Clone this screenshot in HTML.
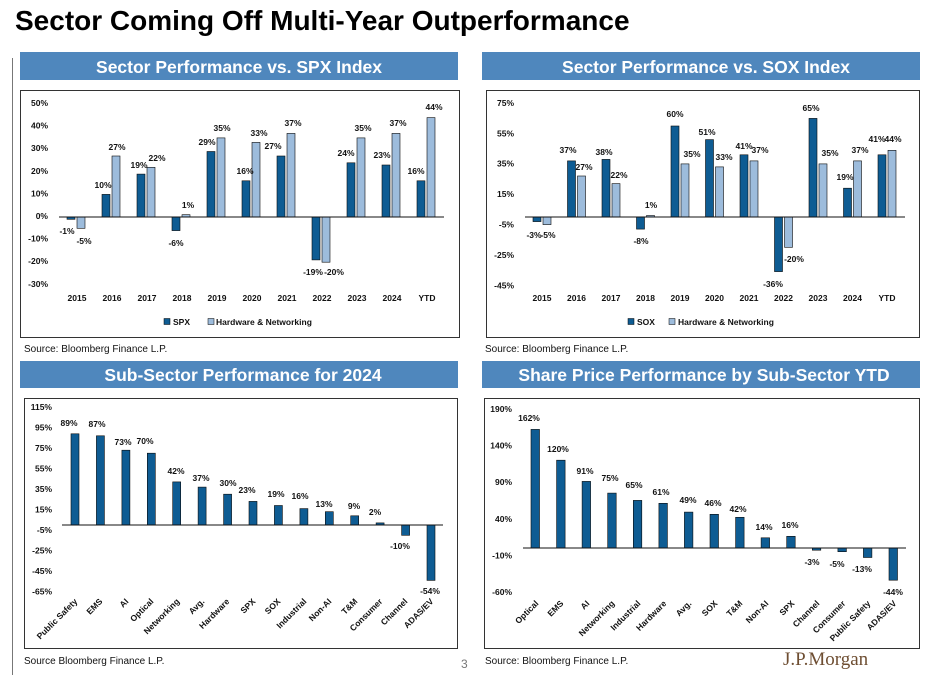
<!DOCTYPE html>
<html><head><meta charset="utf-8"><style>
html,body{margin:0;padding:0;background:#fff;}
svg{display:block;}
text{font-family:"Liberation Sans",sans-serif;}
.t{font-size:8.5px;font-weight:bold;fill:#111;}
.v{font-size:8.5px;font-weight:bold;fill:#111;text-anchor:middle;}
.y{font-size:8.5px;font-weight:bold;fill:#111;text-anchor:end;}
.x{font-size:8.5px;font-weight:bold;fill:#111;text-anchor:middle;}
.r{font-size:8.5px;font-weight:bold;fill:#111;text-anchor:end;}
.s{font-size:10px;fill:#111;}
.bn{font-size:17.5px;font-weight:bold;fill:#fff;text-anchor:middle;}
.d rect{fill:#0e5c93;stroke:#0a0a0a;stroke-width:0.6;}
.l rect{fill:#9dbcdc;stroke:#0a0a0a;stroke-width:0.6;}
</style></head><body>
<svg width="931" height="675" viewBox="0 0 931 675" xmlns="http://www.w3.org/2000/svg">
<text x="15" y="30" style="font-size:28px;font-weight:bold;fill:#000">Sector Coming Off Multi-Year Outperformance</text>
<line x1="12.5" y1="58" x2="12.5" y2="675" stroke="#777" stroke-width="1"/>
<!-- banners -->
<rect x="20" y="52" width="438" height="28" fill="#4f87bd"/>
<text class="bn" x="239" y="73">Sector Performance vs. SPX Index</text>
<rect x="482" y="52" width="438" height="28" fill="#4f87bd"/>
<text class="bn" x="706" y="73">Sector Performance vs. SOX Index</text>
<rect x="20" y="361" width="438" height="27" fill="#4f87bd"/>
<text class="bn" x="243" y="381">Sub-Sector Performance for 2024</text>
<rect x="482" y="361" width="438" height="27" fill="#4f87bd"/>
<text class="bn" x="704" y="381">Share Price Performance by Sub-Sector YTD</text>
<!-- boxes -->
<rect x="20.5" y="90.5" width="439" height="247" fill="none" stroke="#333" stroke-width="1"/>
<rect x="486.5" y="90.5" width="433" height="247" fill="none" stroke="#333" stroke-width="1"/>
<rect x="24.5" y="398.5" width="433" height="250" fill="none" stroke="#333" stroke-width="1"/>
<rect x="484.5" y="398.5" width="435" height="250" fill="none" stroke="#333" stroke-width="1"/>
<text class="s" x="24" y="352">Source: Bloomberg Finance L.P.</text>
<text class="s" x="485" y="352">Source: Bloomberg Finance L.P.</text>
<text class="s" x="24" y="664">Source Bloomberg Finance L.P.</text>
<text class="s" x="485" y="664">Source: Bloomberg Finance L.P.</text>
<text x="461" y="668" style="font-size:12px;fill:#777">3</text>
<text x="783" y="665" style="font-family:'Liberation Serif',serif;font-size:19px;fill:#6e4e32">J.P.Morgan</text>

<!-- Chart 1 -->
<g class="y">
<text x="48" y="106">50%</text><text x="48" y="128.6">40%</text><text x="48" y="151.2">30%</text><text x="48" y="173.8">20%</text><text x="48" y="196.4">10%</text><text x="48" y="219">0%</text><text x="48" y="241.6">-10%</text><text x="48" y="264.2">-20%</text><text x="48" y="286.8">-30%</text>
</g>
<g class="d">
<rect x="67" y="217" width="8" height="2.3"/><rect x="102" y="194.4" width="8" height="22.6"/><rect x="137" y="174.1" width="8" height="42.9"/><rect x="172" y="217" width="8" height="13.6"/><rect x="207" y="151.5" width="8" height="65.5"/><rect x="242" y="180.8" width="8" height="36.2"/><rect x="277" y="156" width="8" height="61"/><rect x="312" y="217" width="8" height="42.9"/><rect x="347" y="162.8" width="8" height="54.2"/><rect x="382" y="165" width="8" height="52"/><rect x="417" y="180.8" width="8" height="36.2"/>
</g>
<g class="l">
<rect x="77" y="217" width="8" height="11.3"/><rect x="112" y="156" width="8" height="61"/><rect x="147" y="167.3" width="8" height="49.7"/><rect x="182" y="214.7" width="8" height="2.3"/><rect x="217" y="137.9" width="8" height="79.1"/><rect x="252" y="142.4" width="8" height="74.6"/><rect x="287" y="133.4" width="8" height="83.6"/><rect x="322" y="217" width="8" height="45.2"/><rect x="357" y="137.9" width="8" height="79.1"/><rect x="392" y="133.4" width="8" height="83.6"/><rect x="427" y="117.6" width="8" height="99.4"/>
</g>
<line x1="59" y1="217" x2="444" y2="217" stroke="#111" stroke-width="1"/>
<g class="v">
<text x="67" y="234">-1%</text><text x="84" y="244">-5%</text>
<text x="103" y="188">10%</text><text x="117" y="150">27%</text>
<text x="139" y="168">19%</text><text x="157" y="161">22%</text>
<text x="176" y="246">-6%</text><text x="188" y="208">1%</text>
<text x="207" y="145">29%</text><text x="222" y="131">35%</text>
<text x="245" y="174">16%</text><text x="259" y="136">33%</text>
<text x="273" y="149">27%</text><text x="293" y="126">37%</text>
<text x="313" y="275">-19%</text><text x="334" y="275">-20%</text>
<text x="346" y="156">24%</text><text x="363" y="131">35%</text>
<text x="382" y="158">23%</text><text x="398" y="126">37%</text>
<text x="416" y="174">16%</text><text x="434" y="110">44%</text>
</g>
<g class="x">
<text x="77" y="301">2015</text><text x="112" y="301">2016</text><text x="147" y="301">2017</text><text x="182" y="301">2018</text><text x="217" y="301">2019</text><text x="252" y="301">2020</text><text x="287" y="301">2021</text><text x="322" y="301">2022</text><text x="357" y="301">2023</text><text x="392" y="301">2024</text><text x="427" y="301">YTD</text>
</g>
<rect x="164" y="318.5" width="6" height="6" fill="#0e5c93" stroke="#000" stroke-width="0.5"/>
<text class="t" x="173" y="325">SPX</text>
<rect x="208" y="318.5" width="6" height="6" fill="#9dbcdc" stroke="#000" stroke-width="0.5"/>
<text class="t" x="216" y="325">Hardware &amp; Networking</text>

<!-- Chart 2 -->
<g class="y">
<text x="514" y="106">75%</text><text x="514" y="136.3">55%</text><text x="514" y="166.7">35%</text><text x="514" y="197">15%</text><text x="514" y="227.6">-5%</text><text x="514" y="258">-25%</text><text x="514" y="288.3">-45%</text>
</g>
<g class="d">
<rect x="533" y="217" width="8" height="4.6"/><rect x="567.5" y="160.9" width="8" height="56.1"/><rect x="602" y="159.4" width="8" height="57.6"/><rect x="636.5" y="217" width="8" height="12.1"/><rect x="671" y="126" width="8" height="91"/><rect x="705.5" y="139.6" width="8" height="77.4"/><rect x="740" y="154.8" width="8" height="62.2"/><rect x="774.5" y="217" width="8" height="54.6"/><rect x="809" y="118.4" width="8" height="98.6"/><rect x="843.5" y="188.2" width="8" height="28.8"/><rect x="878" y="154.8" width="8" height="62.2"/>
</g>
<g class="l">
<rect x="543" y="217" width="8" height="7.6"/><rect x="577.5" y="176" width="8" height="41"/><rect x="612" y="183.6" width="8" height="33.4"/><rect x="646.5" y="215.5" width="8" height="1.5"/><rect x="681" y="163.9" width="8" height="53.1"/><rect x="715.5" y="166.9" width="8" height="50.1"/><rect x="750" y="160.9" width="8" height="56.1"/><rect x="784.5" y="217" width="8" height="30.3"/><rect x="819" y="163.9" width="8" height="53.1"/><rect x="853.5" y="160.9" width="8" height="56.1"/><rect x="888" y="150.3" width="8" height="66.7"/>
</g>
<line x1="525" y1="217" x2="905" y2="217" stroke="#111" stroke-width="1"/>
<g class="v">
<text x="534" y="238">-3%</text><text x="548" y="238">-5%</text>
<text x="568" y="153">37%</text><text x="584" y="170">27%</text>
<text x="604" y="155">38%</text><text x="619" y="178">22%</text>
<text x="641" y="244">-8%</text><text x="651" y="208">1%</text>
<text x="675" y="117">60%</text><text x="692" y="157">35%</text>
<text x="707" y="135">51%</text><text x="724" y="160">33%</text>
<text x="744" y="149">41%</text><text x="760" y="153">37%</text>
<text x="773" y="287">-36%</text><text x="794" y="262">-20%</text>
<text x="811" y="111">65%</text><text x="830" y="156">35%</text>
<text x="845" y="180">19%</text><text x="860" y="153">37%</text>
<text x="877" y="142">41%</text><text x="893" y="142">44%</text>
</g>
<g class="x">
<text x="542" y="301">2015</text><text x="576.5" y="301">2016</text><text x="611" y="301">2017</text><text x="645.5" y="301">2018</text><text x="680" y="301">2019</text><text x="714.5" y="301">2020</text><text x="749" y="301">2021</text><text x="783.5" y="301">2022</text><text x="818" y="301">2023</text><text x="852.5" y="301">2024</text><text x="887" y="301">YTD</text>
</g>
<rect x="628" y="318.5" width="6" height="6" fill="#0e5c93" stroke="#000" stroke-width="0.5"/>
<text class="t" x="637" y="325">SOX</text>
<rect x="669" y="318.5" width="6" height="6" fill="#9dbcdc" stroke="#000" stroke-width="0.5"/>
<text class="t" x="678" y="325">Hardware &amp; Networking</text>

<!-- Chart 3 -->
<g class="y">
<text x="52" y="410">115%</text><text x="52" y="430.5">95%</text><text x="52" y="451">75%</text><text x="52" y="471.6">55%</text><text x="52" y="492">35%</text><text x="52" y="512.6">15%</text><text x="52" y="533">-5%</text><text x="52" y="553.6">-25%</text><text x="52" y="574">-45%</text><text x="52" y="594.6">-65%</text>
</g>
<g class="d">
<rect x="71" y="433.8" width="8" height="91.2"/><rect x="96.4" y="435.8" width="8" height="89.2"/><rect x="121.9" y="450.2" width="8" height="74.8"/><rect x="147.3" y="453.2" width="8" height="71.8"/><rect x="172.7" y="481.9" width="8" height="43.1"/><rect x="198.1" y="487.1" width="8" height="37.9"/><rect x="223.6" y="494.2" width="8" height="30.8"/><rect x="249" y="501.4" width="8" height="23.6"/><rect x="274.4" y="505.5" width="8" height="19.5"/><rect x="299.9" y="508.6" width="8" height="16.4"/><rect x="325.3" y="511.7" width="8" height="13.3"/><rect x="350.7" y="515.8" width="8" height="9.2"/><rect x="376.1" y="522.9" width="8" height="2.1"/><rect x="401.6" y="525" width="8" height="10.3"/><rect x="427" y="525" width="8" height="55.4"/>
</g>
<line x1="62" y1="525" x2="443" y2="525" stroke="#111" stroke-width="1"/>
<g class="v">
<text x="69" y="426">89%</text><text x="97" y="427">87%</text><text x="123" y="445">73%</text><text x="145" y="444">70%</text><text x="176" y="474">42%</text><text x="201" y="481">37%</text><text x="228" y="486">30%</text><text x="247" y="493">23%</text><text x="276" y="497">19%</text><text x="300" y="499">16%</text><text x="324" y="507">13%</text><text x="354" y="509">9%</text><text x="375" y="515">2%</text><text x="400" y="549">-10%</text><text x="430" y="594">-54%</text>
</g>
<g class="r">
<text transform="translate(78,602) rotate(-45)">Public Safety</text>
<text transform="translate(103,602) rotate(-45)">EMS</text>
<text transform="translate(129,602) rotate(-45)">AI</text>
<text transform="translate(154,602) rotate(-45)">Optical</text>
<text transform="translate(180,602) rotate(-45)">Networking</text>
<text transform="translate(205,602) rotate(-45)">Avg.</text>
<text transform="translate(230,602) rotate(-45)">Hardware</text>
<text transform="translate(256,602) rotate(-45)">SPX</text>
<text transform="translate(281,602) rotate(-45)">SOX</text>
<text transform="translate(307,602) rotate(-45)">Industrial</text>
<text transform="translate(332,602) rotate(-45)">Non-AI</text>
<text transform="translate(358,602) rotate(-45)">T&amp;M</text>
<text transform="translate(383,602) rotate(-45)">Consumer</text>
<text transform="translate(408,602) rotate(-45)">Channel</text>
<text transform="translate(434,602) rotate(-45)">ADAS/EV</text>
</g>

<!-- Chart 4 -->
<g class="y">
<text x="512" y="412">190%</text><text x="512" y="448.6">140%</text><text x="512" y="485.2">90%</text><text x="512" y="521.8">40%</text><text x="512" y="558.3">-10%</text><text x="512" y="595">-60%</text>
</g>
<g class="d">
<rect x="531" y="429.4" width="8.5" height="118.6"/><rect x="556.6" y="460.2" width="8.5" height="87.8"/><rect x="582.1" y="481.4" width="8.5" height="66.6"/><rect x="607.7" y="493.1" width="8.5" height="54.9"/><rect x="633.3" y="500.4" width="8.5" height="47.6"/><rect x="658.9" y="503.3" width="8.5" height="44.7"/><rect x="684.4" y="512.1" width="8.5" height="35.9"/><rect x="710" y="514.3" width="8.5" height="33.7"/><rect x="735.6" y="517.3" width="8.5" height="30.7"/><rect x="761.1" y="537.8" width="8.5" height="10.2"/><rect x="786.7" y="536.3" width="8.5" height="11.7"/><rect x="812.3" y="548" width="8.5" height="2.2"/><rect x="837.9" y="548" width="8.5" height="3.7"/><rect x="863.4" y="548" width="8.5" height="9.5"/><rect x="889" y="548" width="8.5" height="32.2"/>
</g>
<line x1="523" y1="548" x2="906" y2="548" stroke="#111" stroke-width="1"/>
<g class="v">
<text x="529" y="421">162%</text><text x="558" y="452">120%</text><text x="585" y="474">91%</text><text x="610" y="481">75%</text><text x="634" y="488">65%</text><text x="661" y="495">61%</text><text x="688" y="503">49%</text><text x="713" y="506">46%</text><text x="738" y="512">42%</text><text x="764" y="530">14%</text><text x="790" y="528">16%</text><text x="812" y="565">-3%</text><text x="837" y="567">-5%</text><text x="862" y="572">-13%</text><text x="893" y="595">-44%</text>
</g>
<g class="r">
<text transform="translate(539,604) rotate(-45)">Optical</text>
<text transform="translate(564,604) rotate(-45)">EMS</text>
<text transform="translate(590,604) rotate(-45)">AI</text>
<text transform="translate(615,604) rotate(-45)">Networking</text>
<text transform="translate(641,604) rotate(-45)">Industrial</text>
<text transform="translate(667,604) rotate(-45)">Hardware</text>
<text transform="translate(692,604) rotate(-45)">Avg.</text>
<text transform="translate(718,604) rotate(-45)">SOX</text>
<text transform="translate(743,604) rotate(-45)">T&amp;M</text>
<text transform="translate(769,604) rotate(-45)">Non-AI</text>
<text transform="translate(795,604) rotate(-45)">SPX</text>
<text transform="translate(820,604) rotate(-45)">Channel</text>
<text transform="translate(846,604) rotate(-45)">Consumer</text>
<text transform="translate(871,604) rotate(-45)">Public Safety</text>
<text transform="translate(897,604) rotate(-45)">ADAS/EV</text>
</g>
</svg>
</body></html>
